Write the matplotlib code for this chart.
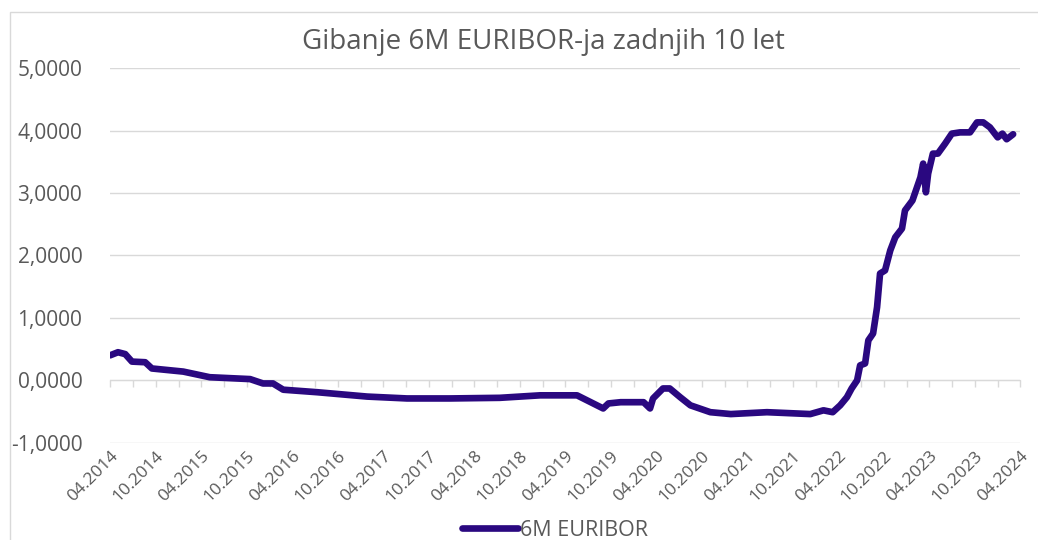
import matplotlib
matplotlib.use("Agg")
import matplotlib.pyplot as plt
import matplotlib.dates as mdates
import matplotlib.ticker as mticker
from matplotlib.patches import Rectangle
import pandas as pd

# 6M EURIBOR
datumi = ["2014-04-01", "2014-05-03", "2014-06-01", "2014-06-28", "2014-08-20",
          "2014-09-16", "2015-01-20", "2015-05-06", "2015-10-15", "2015-12-06",
          "2016-01-15", "2016-02-25", "2016-07-10", "2017-01-27", "2017-07-06",
          "2017-12-25", "2018-07-13", "2018-12-22", "2019-05-19", "2019-06-28",
          "2019-09-01", "2019-09-22", "2019-11-10", "2020-02-10", "2020-03-07",
          "2020-03-19", "2020-04-28", "2020-05-25", "2020-07-06", "2020-08-16",
          "2020-11-04", "2021-01-25", "2021-06-19", "2021-12-10", "2022-02-01",
          "2022-03-10", "2022-04-09", "2022-05-06", "2022-05-25", "2022-06-16",
          "2022-06-28", "2022-07-18", "2022-07-31", "2022-08-19", "2022-09-04",
          "2022-09-16", "2022-10-06", "2022-10-27", "2022-11-16", "2022-12-13",
          "2022-12-25", "2023-01-24", "2023-02-25", "2023-03-08", "2023-03-19",
          "2023-03-28", "2023-04-16", "2023-05-06", "2023-06-04", "2023-07-01",
          "2023-08-03", "2023-09-12", "2023-10-10", "2023-11-04", "2023-12-01",
          "2024-01-01", "2024-01-20", "2024-02-06", "2024-03-03"]
euribor = [0.40, 0.45, 0.42, 0.30, 0.29,
           0.19, 0.14, 0.05, 0.02, -0.05,
           -0.05, -0.15, -0.19, -0.26, -0.29,
           -0.29, -0.28, -0.24, -0.24, -0.32,
           -0.45, -0.37, -0.35, -0.35, -0.45,
           -0.29, -0.13, -0.13, -0.27, -0.40,
           -0.51, -0.54, -0.51, -0.54, -0.48,
           -0.51, -0.40, -0.27, -0.13, 0.00,
           0.24, 0.27, 0.64, 0.75, 1.17,
           1.71, 1.76, 2.08, 2.29, 2.43,
           2.72, 2.88, 3.25, 3.47, 3.01,
           3.31, 3.63, 3.63, 3.79, 3.95,
           3.97, 3.97, 4.13, 4.13, 4.05,
           3.89, 3.95, 3.86, 3.94]
naslov = "Gibanje 6M EURIBOR-ja zadnjih 10 let"
ime_serije = "6M EURIBOR"

plt.rcParams['font.family'] = ['Open Sans', 'DejaVu Sans']
siva = '#595959'
vijolicna = '#2A0880'

x = pd.to_datetime(datumi)
zacetek = pd.Timestamp("2014-04-01")
konec = pd.Timestamp("2024-04-01")

fig = plt.figure(figsize=(10.38, 5.40), dpi=100)
ax = fig.add_axes([0.106, 0.180, 0.877, 0.694])

# okvir grafa
fig.patches.append(Rectangle((0.0096, -0.2), 1.2, 0.2 + 1 - 12/540,
                             transform=fig.transFigure, fill=False,
                             edgecolor='#d9d9d9', linewidth=1))

ax.plot(x, euribor, color=vijolicna, linewidth=4.8, solid_capstyle='round',
        solid_joinstyle='round', label=ime_serije, zorder=3)

ax.set_xlim(zacetek, konec)
ax.set_ylim(-1, 5)
ax.yaxis.set_major_locator(mticker.MultipleLocator(1))
ax.yaxis.set_major_formatter(mticker.FuncFormatter(
    lambda v, p: f"{v:.4f}".replace('.', ',')))
ax.grid(axis='y', color='#d9d9d9', linewidth=1)
ax.set_axisbelow(True)
for s in ax.spines.values():
    s.set_visible(False)
# oznake y odmaknjene od mreze
ax.spines['left'].set_position(('outward', 20))
ax.tick_params(axis='y', length=0, labelsize=15, labelcolor=siva, pad=0)

ax.xaxis.set_major_locator(mdates.MonthLocator(bymonth=[4, 10], bymonthday=1))
ax.xaxis.set_major_formatter(mdates.DateFormatter('%m.%Y'))
ax.tick_params(axis='x', length=0, labelsize=12.5, labelcolor=siva, pad=4)
for lbl in ax.get_xticklabels():
    lbl.set_rotation(45)
    lbl.set_ha('right')
    lbl.set_va('top')
    lbl.set_rotation_mode('anchor')

# os pri nicli s kljukicami na 3 mesece
os0 = ax.secondary_xaxis(1/6)
os0.xaxis.set_major_locator(mdates.MonthLocator(bymonth=[1, 4, 7, 10], bymonthday=1))
os0.xaxis.set_major_formatter(mticker.NullFormatter())
os0.tick_params(axis='x', direction='out', length=5, color='#d9d9d9', width=1)
os0.spines['bottom'].set_color('#d9d9d9')

fig.text(0.524, 0.922, naslov, ha='center', va='center', fontsize=20, color=siva)

fig.legend(loc='center', bbox_to_anchor=(0.535, 1 - 530/540), frameon=False,
           fontsize=15.5, labelcolor=siva, handlelength=2.6, handletextpad=0.1)

fig.savefig('out.png', dpi=100)
